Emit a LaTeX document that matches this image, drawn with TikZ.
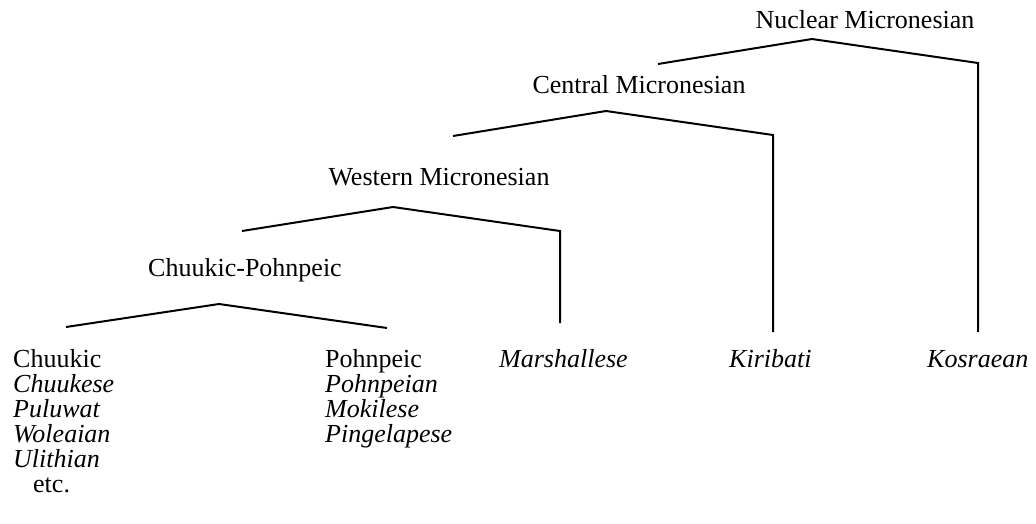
\documentclass[tikz,border=0pt]{standalone}
\usepackage{fontspec}
\setmainfont{Liberation Serif}
\usetikzlibrary{positioning}

\begin{document}
\begin{tikzpicture}
[x=1pt,y=-1pt,every node/.style={inner sep=0pt,font=\fontsize{26}{25}\selectfont},
 group/.style={anchor=base},
 lang/.style={anchor=base west,align=left}]
   \useasboundingbox (0,0) rectangle (1036,523);
   % group labels
   \node[group] (nuc) at (865,28) {Nuclear Micronesian};
   \node[group] (cen) at (639,93) {Central Micronesian};
   \node[group] (wes) at (439,185) {Western Micronesian};
   \node[group] (cp)  at (245,276) {Chuukic-Pohnpeic};
   % languages (base = baseline of the last line)
   \node[lang] (chk) at (13,492) {Chuukic\\ \textit{Chuukese}\\ \textit{Puluwat}\\
      \textit{Woleaian}\\ \textit{Ulithian}\\ \hspace*{20pt}etc.};
   \node[lang] (pon) at (325,442) {Pohnpeic\\ \textit{Pohnpeian}\\ \textit{Mokilese}\\
      \textit{Pingelapese}};
   \node[lang] (mar) at (499,367) {\textit{Marshallese}};
   \node[lang] (kir) at (729,367) {\textit{Kiribati}};
   \node[lang] (kos) at (927,367) {\textit{Kosraean}};
   % branch points
   \coordinate (nuc-top) at (812,39);
   \coordinate (nuc-l) at (658,64);
   \coordinate (nuc-r) at (978,63);
   \coordinate (kos-top) at (978,332);
   \coordinate (cen-top) at (606,111);
   \coordinate (cen-l) at (453,136);
   \coordinate (cen-r) at (773,135);
   \coordinate (kir-top) at (773,332);
   \coordinate (wes-top) at (393,207);
   \coordinate (wes-l) at (242,231);
   \coordinate (wes-r) at (560,231);
   \coordinate (mar-top) at (560,323);
   \coordinate (cp-top) at (219,304);
   \coordinate (cp-l) at (66,327);
   \coordinate (cp-r) at (387,328);
    \path[draw,line width=2pt]
    (nuc-l) -- (nuc-top) -- (nuc-r) -- (kos-top)
    (cen-l) -- (cen-top) -- (cen-r) -- (kir-top)
    (wes-l) -- (wes-top) -- (wes-r) -- (mar-top)
    (cp-l) -- (cp-top) -- (cp-r);

\end{tikzpicture}
\end{document}
